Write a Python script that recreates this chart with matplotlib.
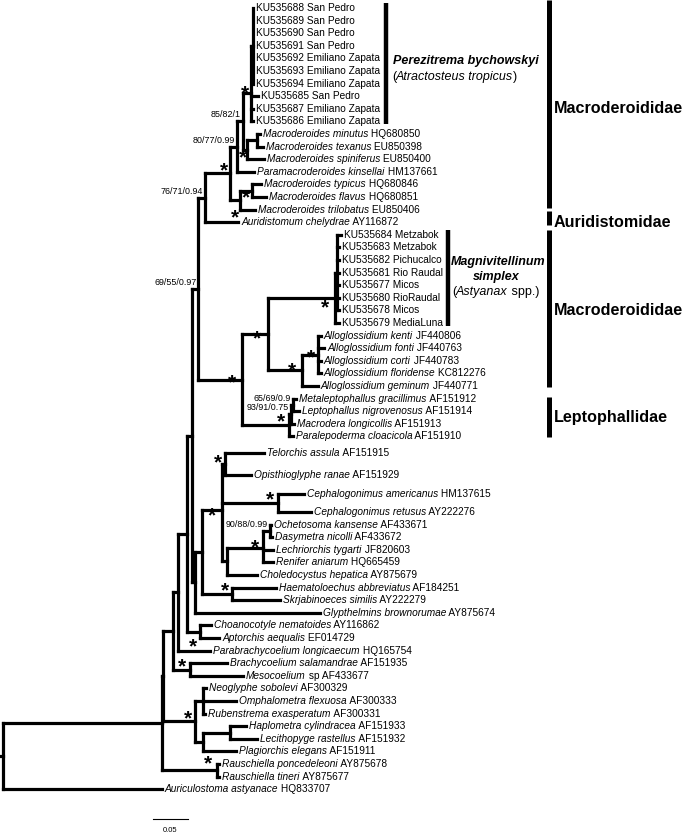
import matplotlib
matplotlib.use('Agg')
import matplotlib.pyplot as plt
from matplotlib.collections import LineCollection

plt.rcParams['font.family'] = ['Liberation Sans', 'DejaVu Sans']

# ---- tree data: internal nodes (depth in substitutions/site from root) ----
node_names = ['root', 'I0', 'I1', 'Na', 'Nb', 'Nc', 'Q1', 'M', 'A76', 'MC',
              'M80', 'M85', 'Per', 'Per1', 'MTS', 'MT', 'TFT', 'TF', 'AL', 'MA',
              'Mg', 'Mg1', 'AG', 'AK', 'LP', 'LP1', 'LP2', 'Nd', 'H', 'K',
              'T', 'Ceph', 'L', 'ODLR', 'O1', 'HS', 'CA', 'BM', 'P', 'NOR',
              'HLP', 'HL', 'RA']
node_parent = [None, 'root', 'I0', 'I1', 'Na', 'Nb', 'Nc', 'Q1', 'M', 'A76',
               'MC', 'M80', 'M85', 'Per', 'M85', 'MTS', 'MC', 'TFT', 'M', 'AL',
               'MA', 'Mg', 'MA', 'AG', 'AL', 'LP', 'LP1', 'Q1', 'Nd', 'H',
               'K', 'K', 'K', 'L', 'ODLR', 'H', 'Nc', 'Na', 'I1', 'P',
               'P', 'HLP', 'I0']
node_depth = [0.000, 0.227, 0.229, 0.243, 0.250, 0.263, 0.270, 0.279, 0.289, 0.324,
              0.334, 0.343, 0.354, 0.357, 0.349, 0.363, 0.339, 0.356, 0.341, 0.379,
              0.474, 0.477, 0.427, 0.450, 0.409, 0.411, 0.414, 0.274, 0.284, 0.313,
              0.317, 0.393, 0.320, 0.371, 0.381, 0.327, 0.281, 0.267, 0.274, 0.286,
              0.286, 0.324, 0.306]

# ---- tips: italic name, plain part, row, parent, depth ----
tip_italic = ['', '', '', '', '', '', '', '', '', '',
              'Macroderoides minutus', 'Macroderoides texanus', 'Macroderoides spiniferus',
              'Paramacroderoides kinsellai', 'Macroderoides typicus', 'Macroderoides flavus',
              'Macroderoides trilobatus', 'Auridistomum chelydrae',
              '', '', '', '', '', '', '', '',
              'Alloglossidium kenti', 'Alloglossidium fonti', 'Alloglossidium corti',
              'Alloglossidium floridense', 'Alloglossidium geminum',
              'Metaleptophallus gracillimus', 'Leptophallus nigrovenosus',
              'Macrodera longicollis', 'Paralepoderma cloacicola',
              'Telorchis assula', 'Opisthioglyphe ranae', 'Cephalogonimus americanus',
              'Cephalogonimus retusus', 'Ochetosoma kansense', 'Dasymetra nicolli',
              'Lechriorchis tygarti', 'Renifer aniarum', 'Choledocystus hepatica',
              'Haematoloechus abbreviatus', 'Skrjabinoeces similis',
              'Glypthelmins brownorumae', 'Choanocotyle nematoides', 'Aptorchis aequalis',
              'Parabrachycoelium longicaecum', 'Brachycoelium salamandrae', 'Mesocoelium',
              'Neoglyphe sobolevi', 'Omphalometra flexuosa', 'Rubenstrema exasperatum',
              'Haplometra cylindracea', 'Lecithopyge rastellus', 'Plagiorchis elegans',
              'Rauschiella poncedeleoni', 'Rauschiella tineri', 'Auriculostoma astyanace']
tip_plain = ['KU535688 San Pedro', 'KU535689 San Pedro', 'KU535690 San Pedro',
             'KU535691 San Pedro', 'KU535692 Emiliano Zapata', 'KU535693 Emiliano Zapata',
             'KU535694 Emiliano Zapata', 'KU535685 San Pedro', 'KU535687 Emiliano Zapata',
             'KU535686 Emiliano Zapata',
             'HQ680850', 'EU850398', 'EU850400', 'HM137661', 'HQ680846', 'HQ680851',
             'EU850406', 'AY116872',
             'KU535684 Metzabok', 'KU535683 Metzabok', 'KU535682 Pichucalco',
             'KU535681 Rio Raudal', 'KU535677 Micos', 'KU535680 RioRaudal',
             'KU535678 Micos', 'KU535679 MediaLuna',
             'JF440806', 'JF440763', 'JF440783', 'KC812276', 'JF440771',
             'AF151912', 'AF151914', 'AF151913', 'AF151910',
             'AF151915', 'AF151929', 'HM137615', 'AY222276', 'AF433671', 'AF433672',
             'JF820603', 'HQ665459', 'AY875679', 'AF184251', 'AY222279', 'AY875674',
             'AY116862', 'EF014729', 'HQ165754', 'AF151935', 'sp AF433677',
             'AF300329', 'AF300333', 'AF300331', 'AF151933', 'AF151932', 'AF151911',
             'AY875678', 'AY875677', 'HQ833707']
tip_rows = list(range(35)) + [35.35, 37.1, 38.55, 40.0] + list(range(41, 63))
tip_parent = ['Per1'] * 7 + ['Per'] * 3 + \
             ['MT', 'MT', 'MTS', 'M80', 'TF', 'TF', 'TFT', 'A76'] + \
             ['Mg1'] * 7 + ['Mg'] + \
             ['AK', 'AK', 'AK', 'AK', 'AG', 'LP2', 'LP2', 'LP1', 'LP'] + \
             ['T', 'T', 'Ceph', 'Ceph', 'O1', 'O1', 'ODLR', 'ODLR', 'L', 'HS', 'HS',
              'Nd', 'CA', 'CA', 'Nb', 'BM', 'BM', 'NOR', 'NOR', 'NOR', 'HL', 'HL',
              'HLP', 'RA', 'RA', 'root']
tip_depth = [0.357] * 7 + [0.364, 0.357, 0.357] + \
            [0.367, 0.371, 0.373, 0.359, 0.369, 0.376, 0.360, 0.336] + \
            [0.483] + [0.480] * 7 + \
            [0.454, 0.459, 0.454, 0.454, 0.450, 0.419, 0.423, 0.416, 0.414] + \
            [0.373, 0.354, 0.430, 0.440, 0.383, 0.384, 0.386, 0.386, 0.363, 0.390, 0.396,
             0.453, 0.297, 0.309, 0.296, 0.320, 0.343, 0.290, 0.333, 0.289, 0.347, 0.363,
             0.333, 0.309, 0.309, 0.227]

# support values and starred nodes
support_nodes = ['M85', 'M80', 'A76', 'M', 'LP2', 'LP1', 'O1']
support_text = ['85/82/1', '80/77/0.99', '76/71/0.94', '69/55/0.97',
                '65/69/0.9', '93/91/0.75', '90/88/0.99']
star_nodes = ['Per', 'MTS', 'MC', 'TF', 'TFT', 'AL', 'MA', 'Mg', 'AG', 'AK',
              'LP', 'T', 'K', 'Ceph', 'ODLR', 'HS', 'CA', 'BM', 'P', 'RA']
star_dx = [-6, -4, -6, -6, -5, -10, -11, -10, -10, -7, -8, -7, -10, -8, -8, -7, -7, -8, -7, -9]
star_dy = [-4, 3, -7, 2, 13, -2, 0, 5, -4, -1, -8, -6, 2, -8, -5, -8, 10, -7, -7, -11]

# bracket groups on the right (rows covered, bar extent in rows)
clade_rows = [(0, 9), (18, 25)]
family_names = ['Macroderoididae', 'Auridistomidae', 'Macroderoididae', 'Leptophallidae']
family_rows = [(0, 16), (17, 17), (18, 30), (31, 34)]
family_span = [(-0.6, 15.85), (16.1, 17.2), (17.6, 30.1), (30.85, 34.05)]
scale_len = 0.05

# ---- layout ----
PX = 700.0    # pixels per unit of branch length
ROW = 12.6    # pixels per tip row
TOP = 8.0
LEFT = 3.0
px2pt = 72.0 / 100


def dx(px):
    return px / PX


def rowof(py):
    return (py - TOP) / ROW


fig = plt.figure(figsize=(6.85, 8.34), dpi=100)
ax = fig.add_axes([0, 0, 1, 1])
ax.set_xlim(-LEFT / PX, (685 - LEFT) / PX)
ax.set_ylim(rowof(834), rowof(0))
ax.axis('off')

depth = dict(zip(node_names, node_depth))
children = {n: [] for n in node_names}
for n, p in zip(node_names, node_parent):
    if p is not None:
        children[p].append(('node', n))
for i, p in enumerate(tip_parent):
    children[p].append(('tip', i))

ypos = {}


def node_y(n):
    if n in ypos:
        return ypos[n]
    ys = [child_y(c) for c in children[n]]
    ypos[n] = sum(ys) / len(ys)
    return ypos[n]


def child_y(c):
    kind, key = c
    return tip_rows[key] if kind == 'tip' else node_y(key)


def child_x(c):
    kind, key = c
    return tip_depth[key] if kind == 'tip' else depth[key]


segs = []
for n in node_names:
    ys = [child_y(c) for c in children[n]]
    x0 = depth[n]
    segs.append([(x0, min(ys)), (x0, max(ys))])
    for c in children[n]:
        segs.append([(x0, child_y(c)), (child_x(c), child_y(c))])
segs.append([(-dx(3), node_y('root')), (0, node_y('root'))])
ax.add_collection(LineCollection(segs, colors='black', linewidths=2.3,
                                 capstyle='projecting'))

# tip labels
FS = 7.3
for i in range(len(tip_plain)):
    xy = (tip_depth[i], tip_rows[i])
    if tip_italic[i]:
        t = ax.annotate(tip_italic[i], xy=xy, xytext=(3 * px2pt, 0),
                        textcoords='offset points', va='center', ha='left',
                        fontsize=FS, style='italic')
        ax.annotate(' ' + tip_plain[i], xy=(1, 0.5), xycoords=t, va='center',
                    ha='left', fontsize=FS)
    else:
        ax.annotate(tip_plain[i], xy=xy, xytext=(3 * px2pt, 0),
                    textcoords='offset points', va='center', ha='left', fontsize=FS)

# support values
for n, s in zip(support_nodes, support_text):
    ax.annotate(s, xy=(depth[n], node_y(n)), xytext=(-2 * px2pt, 2 * px2pt),
                textcoords='offset points', ha='right', va='bottom', fontsize=6.4)

# stars
SFS = 15
for n, ddx, ddy in zip(star_nodes, star_dx, star_dy):
    ax.annotate('*', xy=(depth[n], node_y(n)),
                xytext=(ddx * px2pt, -ddy * px2pt - 0.23 * SFS),
                textcoords='offset points', ha='center', va='center',
                fontsize=SFS, fontweight='bold')

# clade brackets
clade_x = [dx(386 - LEFT), dx(448 - LEFT)]
for (r0, r1), xb in zip(clade_rows, clade_x):
    ax.plot([xb, xb], [r0 - 0.4, r1 + 0.2], color='black', lw=3.2,
            solid_capstyle='butt')

xt = dx(393 - LEFT)
ax.text(xt, rowof(61), 'Perezitrema bychowskyi', fontsize=9, style='italic',
        fontweight='bold', va='center', ha='left')
t = ax.text(xt - dx(1), rowof(77), '(', fontsize=9, va='center', ha='left')
t = ax.annotate('Atractosteus tropicus', xy=(1, 0.5), xycoords=t, fontsize=9,
                style='italic', va='center', ha='left')
ax.annotate(')', xy=(1, 0.5), xycoords=t, fontsize=9, va='center', ha='left')

xt = dx(451 - LEFT)
ax.text(xt, rowof(262), 'Magnivitellinum', fontsize=9, style='italic',
        fontweight='bold', va='center', ha='left')
ax.text(dx(496 - LEFT), rowof(277), 'simplex', fontsize=9, style='italic',
        fontweight='bold', va='center', ha='center')
t = ax.text(xt + dx(1), rowof(292), '(', fontsize=9, va='center', ha='left')
t = ax.annotate('Astyanax', xy=(1, 0.5), xycoords=t, fontsize=9,
                style='italic', va='center', ha='left')
ax.annotate(' spp.)', xy=(1, 0.5), xycoords=t, fontsize=9, va='center', ha='left')

# family brackets
fam_x = dx(549 - LEFT)
for name, (r0, r1), (s0, s1) in zip(family_names, family_rows, family_span):
    ax.plot([fam_x, fam_x], [s0, s1], color='black', lw=3.6,
            solid_capstyle='butt')
    ax.text(fam_x + dx(5), (r0 + r1) / 2, name, fontsize=11.6,
            fontweight='bold', va='center', ha='left')

# scale bar
sx = dx(153 - LEFT)
ax.plot([sx, sx + scale_len], [rowof(819), rowof(819)], color='black', lw=0.8)
ax.text(sx + scale_len / 2, rowof(830), '%.2f' % scale_len, fontsize=5.5,
        ha='center', va='center')

fig.savefig('out.png', dpi=100)
